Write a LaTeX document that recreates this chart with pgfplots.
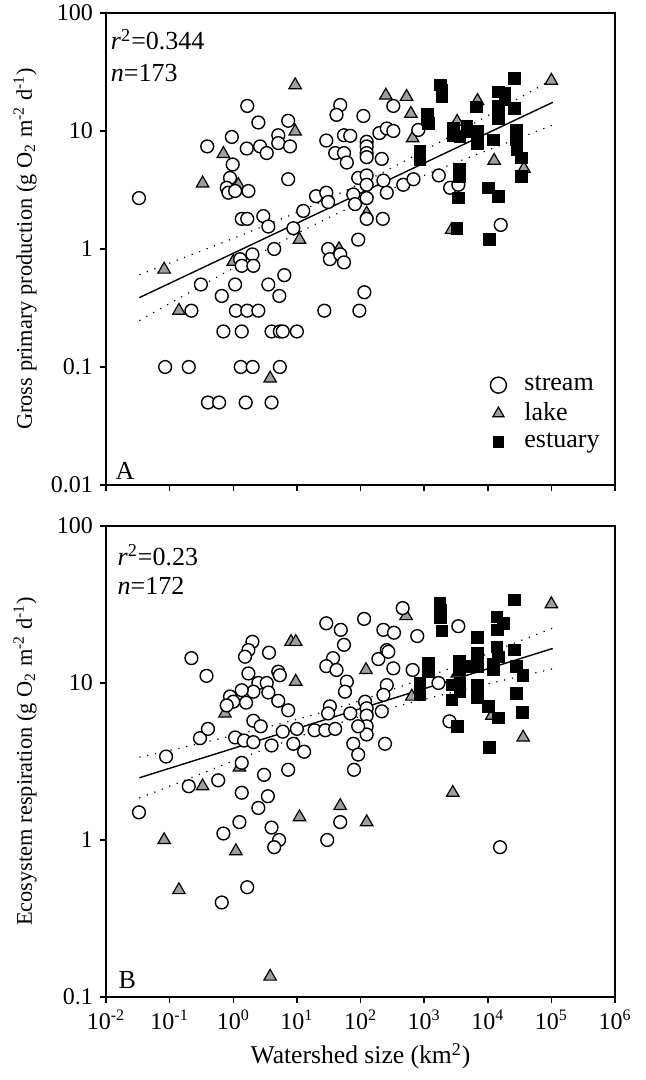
\documentclass[border=0pt]{standalone}
\usepackage{fontspec}
\setmainfont{Liberation Serif}
\usepackage{pgfplots}
\pgfplotsset{compat=1.18}

\definecolor{lakegray}{RGB}{158,158,158}

\pgfplotsset{
  every axis/.append style={
    scale only axis, width=254.5pt,
    tick align=outside, tick pos=left,
    major tick length=3pt, minor tick length=0pt,
    axis line style={line width=0.75pt},
    major tick style={black, line width=0.75pt},
    tick label style={font=\fontsize{12}{14}\selectfont},
  },
  every axis y label/.style={at={(axis description cs:-0.159,0.5)}, rotate=90, anchor=center,
    font=\fontsize{11.2}{13}\selectfont},
}
\tikzset{
  ptstream/.style={only marks, mark=*, mark size=3.2pt,
    mark options={fill=white, draw=black, line width=0.7pt}},
  ptlake/.style={only marks, mark=triangle*, mark size=3.6pt,
    mark options={fill=lakegray, draw=black, line width=0.6pt}},
  ptestuary/.style={only marks, mark=square*, mark size=2.9pt,
    mark options={fill=black, draw=black}},
  fitline/.style={black, line width=0.7pt},
  fitband/.style={black, line width=0.6pt, dash pattern=on 0.6pt off 3.4pt, smooth},
}

\begin{document}
\begin{tikzpicture}
\path[use as bounding box] (0,0) rectangle (323pt,540pt);

% panel A: gross primary production
\begin{axis}[at={(53pt,297.5pt)}, anchor=south west, height=236pt,
  xmode=log, ymode=log,
  xmin=1e-2, xmax=1e6, ymin=0.01, ymax=100,
  xtick={1e-2,1e-1,1,1e1,1e2,1e3,1e4,1e5,1e6},
  ytick={0.01,0.1,1,10,100},
  yticklabels={0.01,0.1,1,10,100}, xticklabels={},
  ylabel={Gross primary production (g O\textsubscript{2} m\textsuperscript{-2} d\textsuperscript{-1})},
  legend style={at={(rel axis cs:0.99,0.055)}, anchor=south east, draw=none, fill=none,
    font=\fontsize{13}{15}\selectfont, row sep=0.5pt,
    /tikz/every odd column/.append style={column sep=7pt}},
  legend cell align=left,
]
\addlegendimage{ptstream, mark size=4pt}\addlegendentry{stream}
\addlegendimage{ptlake, mark size=3.2pt}\addlegendentry{lake}
\addlegendimage{ptestuary, mark size=2.7pt}\addlegendentry{estuary}

\addplot[ptlake, forget plot] coordinates {
(9.4,24.5)(250,20)(9.4,9.9)(0.70,6.4)(0.33,3.6)(1.2,3.5)(11,1.2)(46,1.0)(125,2.0)
(0.082,0.67)(0.14,0.3)(3.8,0.08)(1.0,0.78)(530,19.5)(620,14)(660,8.7)(3300,12)
(6900,18)(12600,5.6)(37000,4.8)(100000,26.7)(2700,1.45)
};
\addplot[ptstream, forget plot] coordinates {
(0.033,2.7)(1.66,16.3)(2.48,11.8)(7.3,12.2)(0.39,7.4)(0.95,8.9)(1.63,7.1)(2.64,7.4)
(3.36,6.5)(5.1,9.2)(5.1,7.9)(7.8,7.4)(0.98,5.2)(0.89,4.0)(0.79,3.3)(0.84,3.0)
(1.07,3.1)(1.73,3.1)(7.3,3.9)(1.36,1.8)(1.66,1.8)(2.97,1.9)(3.56,1.55)(12.6,2.1)
(8.8,1.5)(20,2.8)(29,3.0)(31,2.5)(48,16.6)(42,13.7)(111,13.4)(29,8.3)(55,9.2)
(69,9.1)(40,6.5)(55,6.5)(61,5.4)(125,8.1)(125,7.4)(125,6.5)(125,6.0)(198,9.6)
(259,10.5)(216,5.8)(92,4.0)(125,4.2)(125,3.5)(77,2.9)(82,2.4)(125,2.7)(229,3.8)
(259,3.0)(125,1.8)(224,1.8)(92,1.2)(328,16.3)
(328,10)(810,10.2)(470,3.5)(680,3.9)(1700,4.2)(2560,3.3)(3450,3.5)(16000,1.6)
(4.4,1.0)(1.28,0.82)(2.0,0.9)(1.36,0.72)(2.07,0.72)(6.35,0.6)(0.31,0.5)(1.07,0.5)
(3.56,0.5)(0.66,0.4)(5.3,0.4)(0.22,0.3)(1.1,0.3)(1.66,0.3)(2.48,0.3)(0.70,0.2)
(1.36,0.2)(4.0,0.2)(5.4,0.2)(6.0,0.2)(10,0.2)(0.085,0.1)(0.2,0.1)(1.31,0.1)
(2.02,0.1)(5.4,0.1)(0.4,0.05)(0.6,0.05)(1.57,0.05)(4.0,0.05)(31,1.0)(33,0.82)
(48,0.9)(55,0.77)(115,0.43)(27,0.3)(96,0.3)
};
\addplot[ptestuary, forget plot] coordinates {
(1820,24.5)(1890,22)(1890,19.5)(1125,14)(1125,12.4)(1170,11.6)(860,6.7)(860,5.7)
(2880,10.5)(2820,9.2)(3670,9.0)(4700,10.9)(5600,9.9)(6900,9.9)(6900,7.8)(12200,8.4)
(6700,16)(14700,21.5)(18700,21)(14700,16.1)(18700,18.3)(26000,15.6)(14700,12.8)
(26000,28)(28000,10.2)(28000,8.4)(28600,6.9)(34000,5.9)(34000,4.1)(3580,4.7)
(3580,4.1)(3450,2.7)(10200,3.3)(14700,2.8)(3260,1.5)(10600,1.2)
};
\addplot[fitline, forget plot] coordinates {(0.0334,0.387)(105200,17.5)};
\addplot[fitband, forget plot] coordinates {
(0.0334,0.605)(0.1,0.759)(1,1.23)(10,2.04)(58.9,3.13)(316,4.90)(3162,9.55)(31623,19.1)(105200,27.5)
};
\addplot[fitband, forget plot] coordinates {
(0.0334,0.247)(0.1,0.345)(1,0.689)(10,1.35)(58.9,2.16)(316,3.25)(3162,5.40)(31623,8.73)(105200,11.2)
};

\node[anchor=base west, inner sep=0, font=\fontsize{13}{15}\selectfont] at (rel axis cs:0.009,0.922) {\textit{r}\textsuperscript{2}=0.344};
\node[anchor=base west, inner sep=0, font=\fontsize{13}{15}\selectfont] at (rel axis cs:0.009,0.854) {\textit{n}=173};
\node[anchor=base west, inner sep=0, font=\fontsize{13}{15}\selectfont] at (rel axis cs:0.018,0.011) {A};
\end{axis}

% panel B: ecosystem respiration
\begin{axis}[at={(53pt,41.5pt)}, anchor=south west, height=235.5pt,
  xmode=log, ymode=log,
  xmin=1e-2, xmax=1e6, ymin=0.1, ymax=100,
  xtick={1e-2,1e-1,1,1e1,1e2,1e3,1e4,1e5,1e6},
  ytick={0.1,1,10,100},
  yticklabels={0.1,1,10,100},
  xticklabels={10\textsuperscript{-2},10\textsuperscript{-1},10\textsuperscript{0},10\textsuperscript{1},10\textsuperscript{2},10\textsuperscript{3},10\textsuperscript{4},10\textsuperscript{5},10\textsuperscript{6}},
  xlabel={Watershed size (km\textsuperscript{2})},
  xlabel style={font=\fontsize{12.8}{15}\selectfont},
  ylabel={Ecosystem respiration (g O\textsubscript{2} m\textsuperscript{-2} d\textsuperscript{-1})},
]
\addplot[ptlake] coordinates {
(8.1,18.3)(9.6,18.3)(9.6,10.2)(122,12.1)(0.74,6.4)(520,26.7)(100000,31.8)(3330,11.5)
(640,8.2)(11600,6.2)(36000,4.5)(1.25,2.9)(0.33,2.2)(48,1.65)(11,1.4)(125,1.3)
(0.082,1.0)(1.1,0.85)(0.14,0.48)(3.8,0.135)(2820,2.0)
};
\addplot[ptstream] coordinates {
(29,24)(49,21.8)(114,25.6)(229,21.8)(55,17.5)(0.22,14.4)(0.38,11.1)(2.0,18.3)
(1.73,16.2)(1.53,14.7)(3.65,15.6)(37,14.4)(29,12.8)(42,12.1)(191,14.2)(259,16.2)
(1.73,11.5)(5.1,11.8)(5.4,11.2)(61,10.2)(57,8.8)(259,9.7)(2.48,10)(3.36,10)
(2.07,8.8)(3.56,8.7)(1.36,9.0)(0.89,8.2)(1.0,7.6)(0.79,7.2)(1.59,7.5)(5.1,7.7)
(7.3,6.7)(118,7.6)(125,6.9)(229,8.4)(216,6.6)(33,7.1)(31,6.4)(69,6.4)(125,6.2)
(125,5.3)(125,4.7)(92,5.3)(2.07,5.75)(2.7,5.3)(10,5.1)(19,5.0)(28,5.0)(40,5.1)
(6.0,4.9)(1.07,4.5)(0.30,4.45)(0.40,5.1)(1.48,4.3)(2.07,4.2)(4.0,4.0)(8.8,4.1)
(77,4.1)(243,4.1)
(460,30)(336,20.9)(780,19.9)(3450,23)(274,15.8)(328,12.4)(660,12.1)(1680,10)(2500,5.7)
(13,3.65)(92,3.5)(0.088,3.4)(1.36,3.1)(3.05,2.6)(7.3,2.8)(79,2.8)(0.58,2.4)
(0.2,2.2)(1.36,2.0)(3.5,1.9)(2.48,1.6)(0.033,1.5)(1.25,1.3)(4.0,1.2)(48,1.3)
(0.70,1.1)(5.25,1.0)(4.4,0.9)(30,1.0)(1.66,0.5)(0.66,0.4)(15600,0.9)
};
\addplot[ptestuary] coordinates {
(1780,32)(1820,29)(1820,26)(1890,21.5)(26000,33.8)(13900,26.4)(17600,24)(14200,21.8)
(6900,19.5)(6900,15.5)(13900,17)(26000,16.2)(1170,13.3)(1170,11.8)(3580,13.7)
(3580,12.1)(5300,12.8)(6900,12.7)(12200,13.2)(12200,12.1)(14700,14.7)(28000,12.7)
(35500,11.2)(860,10)(860,8.8)(860,8.4)(2720,9.7)(3670,10)(3670,8.8)(2720,7.8)
(6900,9.7)(6900,8.8)(6900,8.1)(28000,8.6)(10200,7.1)(14700,6.0)(34700,6.5)
(3330,5.3)(10600,3.9)
};
\addplot[fitline] coordinates {(0.0334,2.49)(105200,16.6)};
\addplot[fitband] coordinates {
(0.0334,3.37)(0.1,3.72)(1,4.63)(10,5.86)(58.9,7.21)(316,9.08)(3162,12.8)(31623,18.5)(105200,22.4)
};
\addplot[fitband] coordinates {
(0.0334,1.85)(0.1,2.20)(1,3.18)(10,4.50)(58.9,5.73)(316,6.98)(3162,8.83)(31623,11.0)(105200,12.3)
};

\node[anchor=base west, inner sep=0, font=\fontsize{13}{15}\selectfont] at (rel axis cs:0.022,0.917) {\textit{r}\textsuperscript{2}=0.23};
\node[anchor=base west, inner sep=0, font=\fontsize{13}{15}\selectfont] at (rel axis cs:0.022,0.854) {\textit{n}=172};
\node[anchor=base west, inner sep=0, font=\fontsize{13}{15}\selectfont] at (rel axis cs:0.024,0.019) {B};
\end{axis}
\end{tikzpicture}
\end{document}
